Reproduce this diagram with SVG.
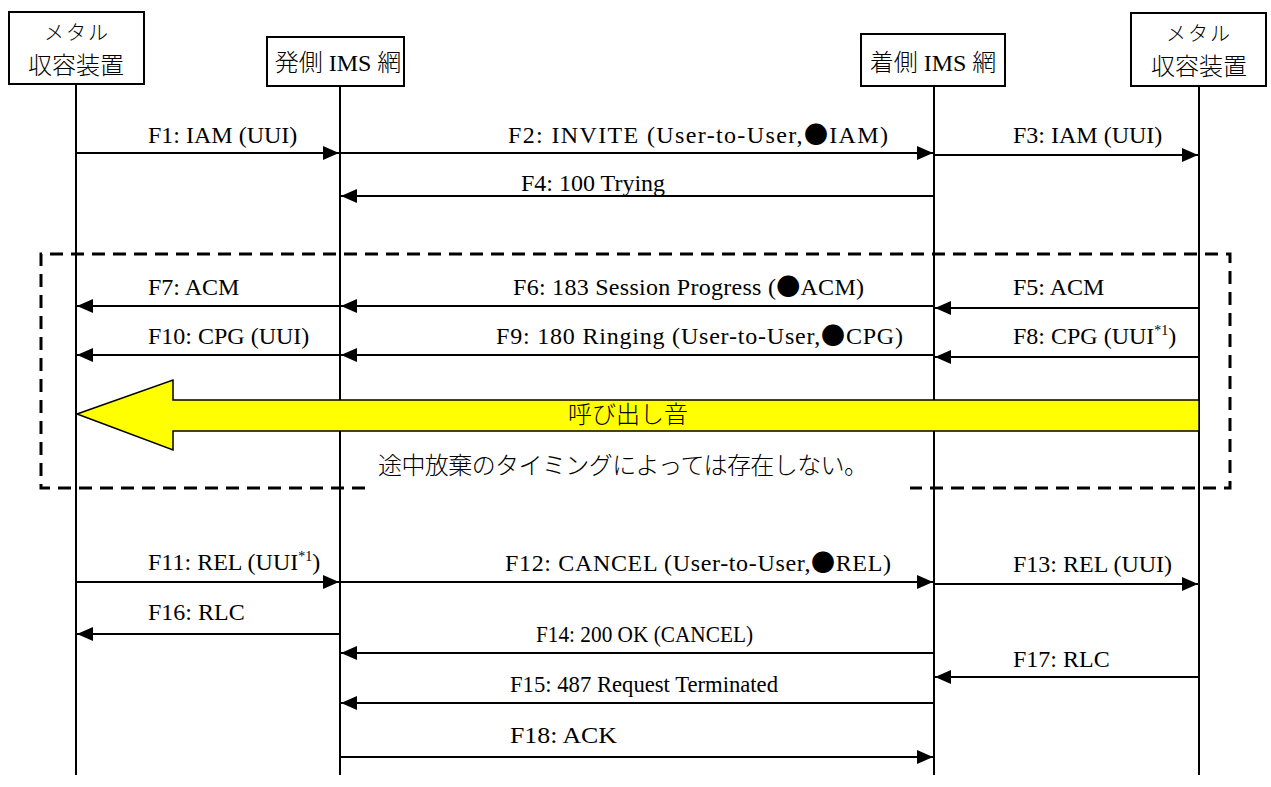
<svg xmlns="http://www.w3.org/2000/svg" width="1271" height="787" viewBox="0 0 1271 787">
<style>
.box{fill:#fff;stroke:#000;stroke-width:2}
.life{stroke:#000;stroke-width:2;fill:none}
.msg{stroke:#000;stroke-width:2;fill:none;marker-end:url(#ah)}
.lbl{font-family:"Liberation Serif","Times New Roman",serif;font-size:24px;fill:#000}
.hdr{font-family:"Liberation Serif","Times New Roman",serif;font-size:24px;fill:#000;text-anchor:middle}
.cj{font-family:"Noto Sans CJK JP",sans-serif;font-weight:300}
.kana{font-family:"Noto Sans CJK JP",sans-serif;font-size:20px;font-weight:300;letter-spacing:2px;fill:#000;text-anchor:middle}
.jp{font-family:"Noto Sans CJK JP",sans-serif;font-weight:300;fill:#000}
.dot{font-family:"Noto Sans CJK JP",sans-serif}
.sup{font-size:14px}
</style>
<defs>
<marker id="ah" markerUnits="userSpaceOnUse" markerWidth="17" markerHeight="16" refX="16" refY="7" orient="auto">
<path d="M0,0 L16,7 L0,14 z" fill="#000"/>
</marker>
</defs>
<rect width="1271" height="787" fill="#fff"/>

<g id="lifelines">
<line class="life" x1="76" y1="84" x2="76" y2="775"/>
<line class="life" x1="340" y1="86" x2="340" y2="775"/>
<line class="life" x1="934" y1="86" x2="934" y2="775"/>
<line class="life" x1="1199" y1="86" x2="1199" y2="775"/>
</g>

<g id="node-metal-left">
<rect class="box" x="9" y="12" width="135" height="72"/>
<text class="kana" x="77" y="40">メタル</text>
<text class="hdr jp" x="76" y="74">収容装置</text>
</g>
<g id="node-orig-ims">
<rect class="box" x="267" y="37" width="137" height="49"/>
<text class="hdr" x="338" y="71"><tspan class="cj">発側</tspan> IMS <tspan class="cj">網</tspan></text>
</g>
<g id="node-term-ims">
<rect class="box" x="861" y="34" width="144" height="52"/>
<text class="hdr" x="933" y="71"><tspan class="cj">着側</tspan> IMS <tspan class="cj">網</tspan></text>
</g>
<g id="node-metal-right">
<rect class="box" x="1131" y="13" width="135" height="73"/>
<text class="kana" x="1199" y="41">メタル</text>
<text class="hdr jp" x="1199" y="75">収容装置</text>
</g>

<g id="ringback">
<polygon points="77,414 173,380 173,400 1199,400 1199,431 173,431 173,450" fill="#ffff00" stroke="#000" stroke-width="1.5"/>
<text class="jp" x="628" y="423" font-size="24" text-anchor="middle">呼び出し音</text>
</g>

<g id="optional-region">
<path d="M365,488 H41 V254 H1230 V488 H910" fill="none" stroke="#000" stroke-width="3" stroke-dasharray="13 8"/>
<text class="jp" x="378" y="474" font-size="24" textLength="490">途中放棄のタイミングによっては存在しない。</text>
</g>

<g id="connectors">
<line class="msg" x1="76" y1="153" x2="339" y2="153"/>
<line class="msg" x1="340" y1="153" x2="933" y2="153"/>
<line class="msg" x1="934" y1="155" x2="1198" y2="155"/>
<line class="msg" x1="934" y1="196" x2="341" y2="196"/>
<line class="msg" x1="1199" y1="308" x2="935" y2="308"/>
<line class="msg" x1="934" y1="306" x2="341" y2="306"/>
<line class="msg" x1="340" y1="306" x2="77" y2="306"/>
<line class="msg" x1="1199" y1="357" x2="935" y2="357"/>
<line class="msg" x1="934" y1="355" x2="341" y2="355"/>
<line class="msg" x1="340" y1="355" x2="77" y2="355"/>
<line class="msg" x1="76" y1="582" x2="339" y2="582"/>
<line class="msg" x1="340" y1="582" x2="933" y2="582"/>
<line class="msg" x1="934" y1="584" x2="1198" y2="584"/>
<line class="msg" x1="340" y1="634" x2="77" y2="634"/>
<line class="msg" x1="934" y1="653" x2="341" y2="653"/>
<line class="msg" x1="1199" y1="677" x2="935" y2="677"/>
<line class="msg" x1="934" y1="703" x2="341" y2="703"/>
<line class="msg" x1="340" y1="757" x2="933" y2="757"/>
</g>

<g id="labels">
<text class="lbl" x="148" y="143">F1: IAM (UUI)</text>
<text class="lbl" x="508" y="143" textLength="380">F2: INVITE (User-to-User,<tspan class="dot">●</tspan>IAM)</text>
<text class="lbl" x="1013" y="143">F3: IAM (UUI)</text>
<text class="lbl" x="521" y="191">F4: 100 Trying</text>
<text class="lbl" x="148" y="295">F7: ACM</text>
<text class="lbl" x="513" y="295" textLength="351">F6: 183 Session Progress (<tspan class="dot">●</tspan>ACM)</text>
<text class="lbl" x="1013" y="295">F5: ACM</text>
<text class="lbl" x="148" y="344">F10: CPG (UUI)</text>
<text class="lbl" x="496" y="344" textLength="407">F9: 180 Ringing (User-to-User,<tspan class="dot">●</tspan>CPG)</text>
<text class="lbl" x="1013" y="344">F8: CPG (UUI<tspan class="sup" dy="-9">*1</tspan><tspan dy="9">)</tspan></text>
<text class="lbl" x="148" y="570">F11: REL (UUI<tspan class="sup" dy="-9">*1</tspan><tspan dy="9">)</tspan></text>
<text class="lbl" x="505" y="571" textLength="386">F12: CANCEL (User-to-User,<tspan class="dot">●</tspan>REL)</text>
<text class="lbl" x="1013" y="572">F13: REL (UUI)</text>
<text class="lbl" x="148" y="620">F16: RLC</text>
<text class="lbl" x="536" y="642" textLength="217" lengthAdjust="spacingAndGlyphs">F14: 200 OK (CANCEL)</text>
<text class="lbl" x="1013" y="667">F17: RLC</text>
<text class="lbl" x="510" y="692" textLength="268" lengthAdjust="spacingAndGlyphs">F15: 487 Request Terminated</text>
<text class="lbl" x="510" y="743" textLength="107" lengthAdjust="spacingAndGlyphs">F18: ACK</text>
</g>
</svg>
